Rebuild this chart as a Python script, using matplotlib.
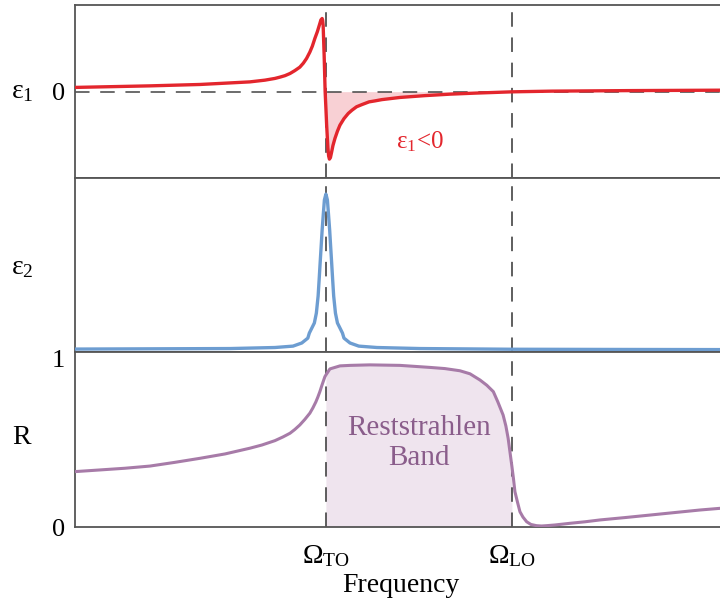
import numpy as np
import matplotlib
matplotlib.use("Agg")
import matplotlib.pyplot as plt

plt.rcParams['font.family'] = ['Liberation Serif', 'DejaVu Serif']
plt.rcParams['mathtext.fontset'] = 'custom'
plt.rcParams['mathtext.rm'] = 'Liberation Serif'
plt.rcParams['mathtext.it'] = 'Liberation Serif'

# frequency in units of Omega_TO
omega_to = 1.0
omega_lo = 1.741

f_eps1 = [0.000, 0.299, 0.498, 0.598, 0.697, 0.757, 0.797, 0.817, 0.837, 0.857,
          0.876, 0.896, 0.910, 0.923, 0.936, 0.946, 0.956, 0.966, 0.976, 0.980,
          0.985, 0.987, 0.989, 0.993, 0.997, 1.000, 1.003, 1.008, 1.011, 1.014,
          1.018, 1.023, 1.028, 1.036, 1.046, 1.056, 1.072, 1.089, 1.104, 1.122,
          1.143, 1.172, 1.195, 1.223, 1.295, 1.394, 1.494, 1.594, 1.741, 1.900,
          2.199, 2.570]
eps1 = [0.049, 0.067, 0.083, 0.098, 0.113, 0.133, 0.153, 0.168, 0.185, 0.210,
        0.243, 0.283, 0.329, 0.384, 0.457, 0.526, 0.615, 0.694, 0.789, 0.829,
        0.846, 0.827, 0.769, 0.422, -0.002, -0.190, -0.387, -0.653, -0.745, -0.780,
        -0.763, -0.696, -0.624, -0.541, -0.457, -0.387, -0.312, -0.252, -0.214, -0.175,
        -0.150, -0.118, -0.107, -0.092, -0.067, -0.046, -0.029, -0.017, -0.002, 0.006,
        0.012, 0.017]

# eps2 (imaginary part)
f_eps2 = [0.000, 0.618, 0.797, 0.869, 0.904, 0.928, 0.934, 0.954, 0.962, 0.969,
          0.973, 0.977, 0.981, 0.985, 0.990, 0.994, 1.000, 1.006, 1.010, 1.015,
          1.019, 1.023, 1.027, 1.031, 1.038, 1.046, 1.066, 1.072, 1.096, 1.131,
          1.203, 1.375, 1.741, 2.092, 2.570]
eps2 = [0.017, 0.020, 0.026, 0.034, 0.052, 0.080, 0.109, 0.167, 0.224, 0.322,
        0.414, 0.511, 0.605, 0.701, 0.799, 0.874, 0.908, 0.874, 0.799, 0.701,
        0.605, 0.511, 0.414, 0.322, 0.224, 0.167, 0.109, 0.080, 0.052, 0.034,
        0.026, 0.020, 0.016, 0.015, 0.014]

# reflectivity
f_R = [0.000, 0.100, 0.199, 0.299, 0.398, 0.498, 0.598, 0.697, 0.745, 0.797,
       0.829, 0.857, 0.876, 0.896, 0.916, 0.936, 0.948, 0.960, 0.968, 0.976,
       0.984, 0.996, 1.000, 1.008, 1.016, 1.036, 1.056, 1.096, 1.175, 1.295,
       1.414, 1.474, 1.534, 1.574, 1.614, 1.641, 1.667, 1.685, 1.706, 1.717,
       1.726, 1.741, 1.747, 1.753, 1.763, 1.773, 1.785, 1.800, 1.817, 1.839,
       1.859, 1.879, 1.912, 1.972, 2.032, 2.092, 2.191, 2.291, 2.390, 2.490,
       2.570]
R = [0.329, 0.339, 0.349, 0.362, 0.384, 0.408, 0.434, 0.468, 0.487, 0.513,
     0.535, 0.557, 0.579, 0.606, 0.639, 0.676, 0.707, 0.743, 0.772, 0.804,
     0.841, 0.893, 0.903, 0.921, 0.939, 0.948, 0.957, 0.960, 0.963, 0.960,
     0.948, 0.941, 0.928, 0.910, 0.873, 0.842, 0.804, 0.743, 0.665, 0.600,
     0.527, 0.360, 0.290, 0.210, 0.149, 0.091, 0.059, 0.031, 0.015, 0.008,
     0.006, 0.008, 0.012, 0.022, 0.031, 0.042, 0.056, 0.071, 0.086, 0.101,
     0.111]

red = '#e3262d'
blue = '#6d9dd1'
purple = '#a77ba8'
spine_col = '#555555'
dash = (0, (9.5, 7))

fig = plt.figure(figsize=(7.2, 6.08), dpi=100)
ax1 = fig.add_axes([0.104, 0.707, 0.896, 0.2845])
ax2 = fig.add_axes([0.104, 0.421, 0.896, 0.286])
ax3 = fig.add_axes([0.104, 0.1332, 0.896, 0.288])

for ax in (ax1, ax2, ax3):
    ax.set_xlim(0, 2.57)
    ax.spines['right'].set_visible(False)
    for s in ('left', 'top', 'bottom'):
        ax.spines[s].set_color(spine_col)
        ax.spines[s].set_linewidth(1.3)
    ax.tick_params(length=0, labelsize=19, pad=7)
    ax.set_xticks([])
    for xv in (omega_to, omega_lo):
        ax.axvline(xv, color='#333333', lw=1.1, linestyle=dash, zorder=1)

# eps1 panel
f1 = np.array(f_eps1)
e1 = np.array(eps1)
ax1.set_ylim(-1, 1)
ax1.axhline(0, color='#444444', lw=1.1, linestyle=dash, zorder=1)
band1 = (f1 >= omega_to) & (f1 <= omega_lo)
ax1.fill_between(f1, np.minimum(e1, 0), 0, where=band1, color='#f8d0d4', lw=0, zorder=0)
ax1.plot(f1, e1, color=red, lw=2.4, zorder=3, solid_joinstyle='round')
ax1.set_yticks([0])
ax1.set_yticklabels(['0'])
ax1.text(1.374, -0.584, r'$\mathrm{ε}_{1}$<0', color=red, fontsize=18,
         ha='center', va='center')

# eps2 panel
ax2.set_ylim(0, 1)
ax2.plot(f_eps2, eps2, color=blue, lw=2.4, zorder=3, solid_joinstyle='round')
ax2.set_yticks([])

# R panel
fR = np.array(f_R)
Rv = np.array(R)
ax3.set_ylim(0, 1.04)
band3 = (fR >= omega_to) & (fR <= omega_lo)
ax3.fill_between(fR, Rv, 0, where=band3, color='#efe4ee', lw=0, zorder=0)
ax3.plot(fR, Rv, color=purple, lw=2.2, zorder=3, solid_joinstyle='round')
ax3.set_yticks([0, 1])
ax3.set_yticklabels(['0', '1'])
ax3.set_xticks([omega_to, omega_lo])
ax3.set_xticklabels([r'$\Omega_{\mathrm{TO}}$', r'$\Omega_{\mathrm{LO}}$'], fontsize=20)
ax3.tick_params(axis='x', pad=12)
ax3.text(1.371, 0.50, 'Reststrahlen\nBand', color='#8a5d8b', fontsize=21,
         ha='center', va='center', linespacing=1.18)

fig.text(22 / 720, 1 - 92 / 608, r'$\mathrm{ε}_{1}$', fontsize=20, ha='center', va='center')
fig.text(22 / 720, 1 - 268 / 608, r'$\mathrm{ε}_{2}$', fontsize=20, ha='center', va='center')
fig.text(22 / 720, 1 - 437 / 608, 'R', fontsize=20, ha='center', va='center')
fig.text(401 / 720, 1 - 586 / 608, 'Frequency', fontsize=20, ha='center', va='center')

fig.savefig('out.png', dpi=100)
